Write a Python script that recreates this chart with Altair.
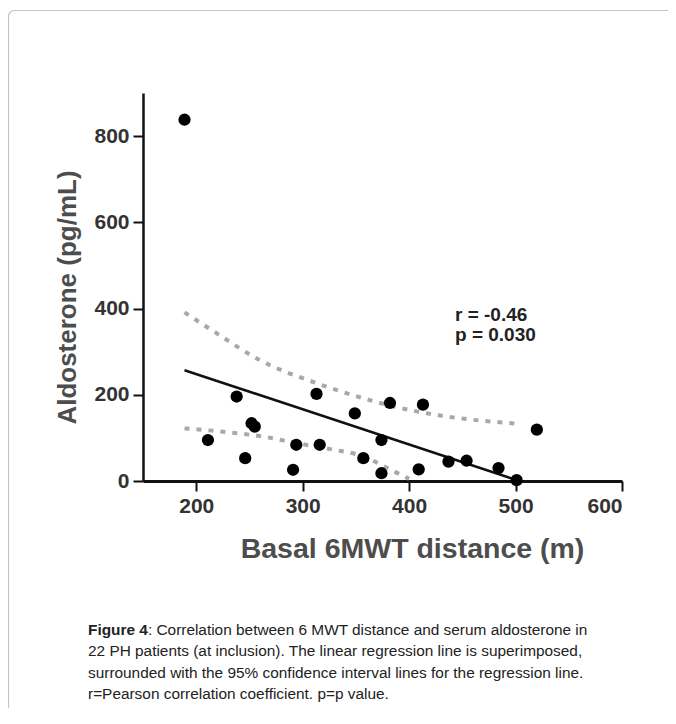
import altair as alt
import pandas as pd

# Scatter data (Basal 6MWT distance vs aldosterone)
x_dist = [189, 238, 313, 252, 255, 211, 246, 294, 316, 291, 382, 413, 349, 374, 357, 374, 409, 437, 454, 484, 501, 520]
y_aldo = [838, 196, 202, 134, 126, 95, 53, 84, 84, 26, 181, 177, 157, 95, 53, 18, 27, 45, 47, 30, 2, 119]

# Regression line and 95% CI lines
fit_x = [189, 500]
fit_y = [257, 3]
upper_x = [189, 219, 260, 313, 357, 382, 429, 501]
upper_y = [391, 343, 280, 227, 192, 175, 152, 133]
lower_x = [189, 230, 263, 294, 326, 357, 382, 400]
lower_y = [122, 113, 103, 88, 74, 57, 27, 5]

x_ticks = [200, 300, 400, 500, 600]
y_ticks = [0, 200, 400, 600, 800]

stat_lines = ["r = -0.46", "p = 0.030"]
caption_bold = "Figure 4"
caption_lines = [
    ": Correlation between 6 MWT distance and serum aldosterone in",
    "22 PH patients (at inclusion). The linear regression line is superimposed,",
    "surrounded with the 95% confidence interval lines for the regression line.",
    "r=Pearson correlation coefficient. p=p value.",
]

W, H = 479, 388
FONT = "'Liberation Sans', Arial, sans-serif"

pts = pd.DataFrame({"x": x_dist, "y": y_aldo})
fit = pd.DataFrame({"x": fit_x, "y": fit_y})
up = pd.DataFrame({"x": upper_x, "y": upper_y})
lo = pd.DataFrame({"x": lower_x, "y": lower_y})

xs = alt.Scale(domain=[150, 600], nice=False, zero=False)
ys = alt.Scale(domain=[0, 900], nice=False)

xax = alt.Axis(
    values=x_ticks, title="Basal 6MWT distance (m)", grid=False,
    labelFont=FONT, labelFontSize=21, labelFontWeight="bold", labelColor="#333333",
    labelPadding=4, tickSize=10, tickWidth=2, tickColor="#111111",
    domainColor="#111111", domainWidth=3,
    titleFont=FONT, titleFontSize=28.5, titleFontWeight="bold", titleColor="#4d4d4d",
    titleX=269, titleY=67, titleBaseline="middle", titleAlign="center",
)
yax = alt.Axis(
    values=y_ticks, title="Aldosterone (pg/mL)", grid=False,
    labelFont=FONT, labelFontSize=21, labelFontWeight="bold", labelColor="#333333",
    labelPadding=4, tickSize=10, tickWidth=2, tickColor="#111111",
    domainColor="#111111", domainWidth=2.5,
    titleFont=FONT, titleFontSize=26, titleFontWeight="bold", titleColor="#4d4d4d",
    titleX=-76, titleY=204, titleBaseline="middle", titleAlign="center", titleAngle=270,
)

base_pts = alt.Chart(pts).mark_circle(size=150, color="black", opacity=1).encode(
    x=alt.X("x:Q", scale=xs, axis=xax),
    y=alt.Y("y:Q", scale=ys, axis=yax),
)

ci_style = dict(color="#a8a8a8", strokeWidth=4, strokeDash=[5, 7], interpolate="monotone")
upper = alt.Chart(up).mark_line(**ci_style).encode(x=alt.X("x:Q", scale=xs), y=alt.Y("y:Q", scale=ys))
lower = alt.Chart(lo).mark_line(**ci_style).encode(x=alt.X("x:Q", scale=xs), y=alt.Y("y:Q", scale=ys))
fit_line = alt.Chart(fit).mark_line(color="#111111", strokeWidth=2.5).encode(
    x=alt.X("x:Q", scale=xs), y=alt.Y("y:Q", scale=ys)
)

stats = []
for i, s in enumerate(stat_lines):
    stats.append(
        alt.Chart(alt.Data(values=[{"t": s}])).mark_text(
            font=FONT, fontSize=19, fontWeight="bold", color="#222222", align="left", baseline="middle"
        ).encode(x=alt.value(312), y=alt.value(222 + 20 * i), text="t:N")
    )

frame = alt.Chart(alt.Data(values=[{"a": 1}])).mark_rect(
    fill="transparent", stroke="#c4c4c4", strokeWidth=1.2, cornerRadius=6
).encode(x=alt.value(-134.5), y=alt.value(-82.5), x2=alt.value(800), y2=alt.value(900))

cap = []
cap_y0 = 537
cap_fs = 15.4
cap.append(
    alt.Chart(alt.Data(values=[{"t": caption_bold}])).mark_text(
        font=FONT, fontSize=cap_fs, fontWeight="bold", color="#222222", align="left", baseline="middle"
    ).encode(x=alt.value(-55), y=alt.value(cap_y0), text="t:N")
)
for i, line in enumerate(caption_lines):
    xpos = -55 + 3.89 * cap_fs if i == 0 else -55
    cap.append(
        alt.Chart(alt.Data(values=[{"t": line}])).mark_text(
            font=FONT, fontSize=cap_fs, color="#222222", align="left", baseline="middle"
        ).encode(x=alt.value(xpos), y=alt.value(cap_y0 + 21.3 * i), text="t:N")
    )

chart = alt.layer(frame, upper, lower, fit_line, base_pts, *stats, *cap).properties(
    width=W, height=H,
    autosize=alt.AutoSizeParams(type="none"),
    padding={"left": 135, "top": 85, "right": 46, "bottom": 227},
    background="white",
).configure_view(stroke=None)

chart.save("out.html", embed_options={"renderer": "svg", "actions": False})
